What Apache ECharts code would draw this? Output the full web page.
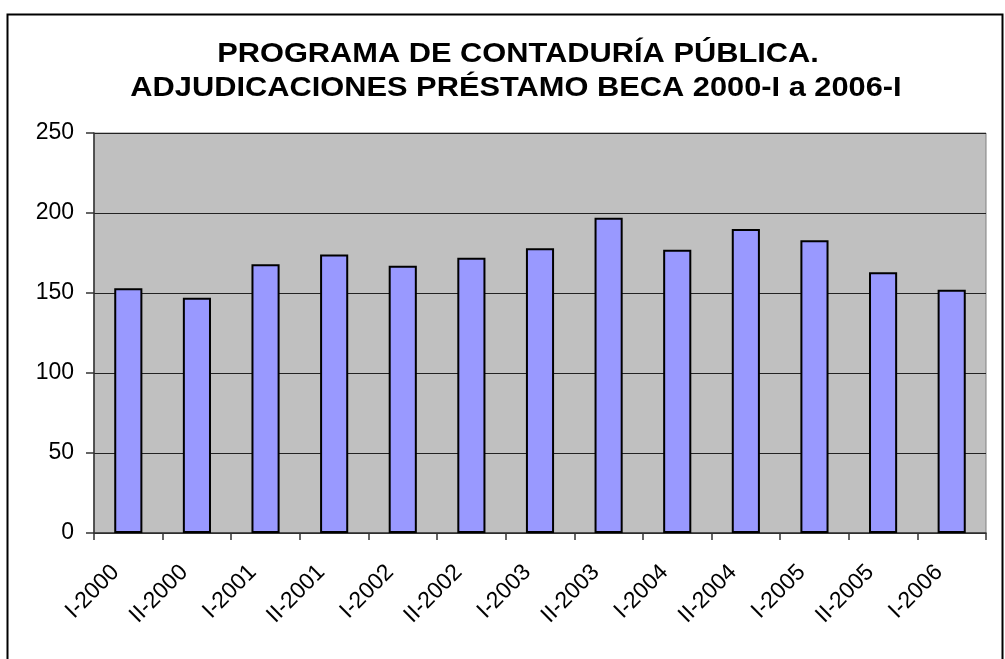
<!DOCTYPE html>
<html>
<head>
<meta charset="utf-8">
<script src="https://cdn.jsdelivr.net/npm/echarts@6/dist/echarts.min.js"></script>
<style>
html,body{margin:0;padding:0;background:#fff;}
#chart{width:1005px;height:659px;}
</style>
</head>
<body>
<div id="chart"></div>
<script>
const titleLines = ['PROGRAMA DE CONTADURÍA PÚBLICA.', 'ADJUDICACIONES PRÉSTAMO BECA 2000-I a 2006-I'];
const categories = ['I-2000','II-2000','I-2001','II-2001','I-2002','II-2002','I-2003','II-2003','I-2004','II-2004','I-2005','II-2005','I-2006'];
const values = [153, 147, 168, 174, 167, 172, 178, 197, 177, 190, 183, 163, 152];
const yTicks = [0, 50, 100, 150, 200, 250];

const chart = echarts.init(document.getElementById('chart'));
const font = 'Liberation Sans, Arial, sans-serif';
chart.setOption({
  backgroundColor: '#ffffff',
  animation: false,
  graphic: [
    { type: 'rect', left: 5, top: 12, shape: { x: 0, y: 0, width: 995, height: 700 },
      style: { fill: 'none', stroke: '#000', lineWidth: 2 }, silent: true, z: -1 },
    { type: 'text', x: 518, y: 54, scaleX: 1.1,
      style: { text: titleLines[0], font: 'bold 28px ' + font, fill: '#000', textAlign: 'center', textVerticalAlign: 'middle' } },
    { type: 'text', x: 516, y: 88, scaleX: 1.1,
      style: { text: titleLines[1], font: 'bold 28px ' + font, fill: '#000', textAlign: 'center', textVerticalAlign: 'middle' } }
  ],
  grid: {
    left: 94, right: 19, top: 133, bottom: 126,
    show: true, backgroundColor: '#C0C0C0', borderColor: '#808080', borderWidth: 1
  },
  xAxis: {
    type: 'category',
    data: categories,
    boundaryGap: true,
    axisLine: { show: true, lineStyle: { color: '#333', width: 1.5 } },
    axisTick: { show: true, length: 7, alignWithLabel: false, lineStyle: { color: '#333', width: 1.5 } },
    axisLabel: { rotate: 45, margin: 23, padding: [0, 18, 0, 0], fontSize: 23, fontFamily: font, color: '#000', interval: 0 },
    splitLine: { show: false }
  },
  yAxis: {
    type: 'value',
    min: yTicks[0], max: yTicks[yTicks.length - 1], interval: 50,
    axisLine: { show: true, lineStyle: { color: '#333', width: 1.5 } },
    axisTick: { show: true, length: 8, lineStyle: { color: '#333', width: 1.5 } },
    axisLabel: { margin: 20, fontSize: 23, fontFamily: font, color: '#000' },
    splitLine: { show: true, lineStyle: { color: '#222', width: 1 } }
  },
  series: [{
    type: 'bar',
    data: values,
    barWidth: '41%',
    itemStyle: { color: '#9999FF', borderColor: '#000', borderWidth: 2 }
  }]
});
</script>
</body>
</html>
